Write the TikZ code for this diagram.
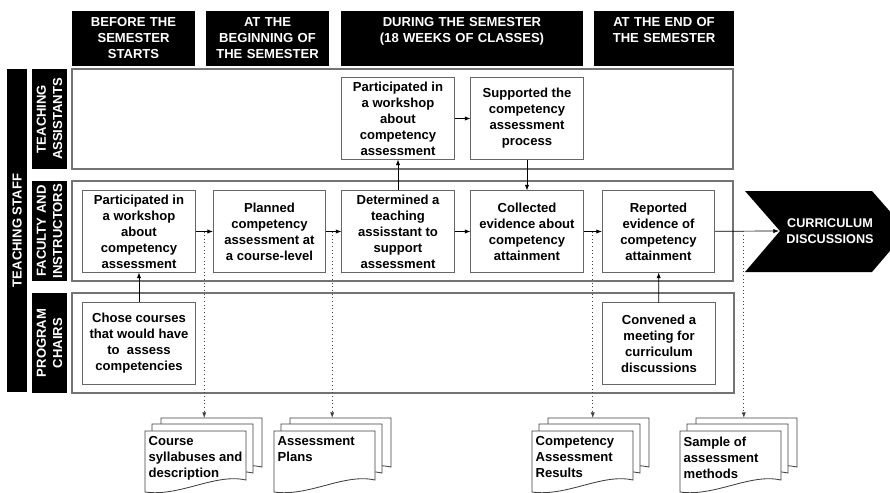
\documentclass[tikz,border=0pt]{standalone}
\usepackage{fontspec}
\setmainfont{Liberation Sans}
\usetikzlibrary{calc,arrows.meta}
\tikzset{>={Latex[length=4pt,width=3pt]}}
\tikzset{
  txt/.style={font=\bfseries\fontsize{9.3}{11.4}\selectfont},
  phase/.style={txt, fill=black, text=white, anchor=north, align=center,
    inner xsep=0pt, inner ysep=3pt, text width=#1, text height=7.5pt, text depth=25.5pt},
  role/.style={txt, fill=black, text=white, rotate=90, align=center,
    minimum width=2.5cm, minimum height=0.875cm, inner sep=1pt},
  lane/.style={draw=black!55, line width=0.9pt},
  task/.style={txt, draw=black!60, line width=0.7pt, fill=white, align=center,
    minimum width=2.8cm, minimum height=2.025cm, inner sep=1pt},
  flow/.style={->, line width=0.5pt},
  feed/.style={->, dotted, line width=0.6pt, black!75},
  docline/.style={draw=black!75, fill=white, line width=0.6pt},
  doctext/.style={txt, anchor=north west, align=left, inner sep=1pt},
  pics/docstack/.style={code={
    \foreach \dx/\dy in {16/-13,7/-7,0/0}
      \draw[docline, shift={(\dx,\dy)}] (0,0) -- (101,0) -- (101,49)
        .. controls (70,42) and (35,66) .. (0,61) -- cycle;
    \coordinate (-top) at (66,-13);
    \node[doctext] (-txt) at (2,4) {#1};
  }}
}
\begin{document}
\begin{tikzpicture}[x=0.025cm, y=-0.025cm]
  \clip (0,0) rectangle (890,493);
  % phases of the semester
  \node[phase=3.075cm] (h1) at (133.5,11) {BEFORE THE\\SEMESTER\\STARTS};
  \node[phase=3.075cm] (h2) at (267.5,11) {AT THE\\BEGINNING OF\\THE SEMESTER};
  \node[phase=6.05cm] (h3) at (462,11) {DURING THE SEMESTER\\(18 WEEKS OF CLASSES)};
  \node[phase=3.5cm] (h4) at (664,11) {AT THE END OF\\THE SEMESTER};

  % roles and lanes
  \node[role, minimum width=8.075cm, minimum height=0.5cm] (staff) at (17,230.5) {TEACHING STAFF};
  \node[role] (ta) at (49.5,119) {TEACHING\\ASSISTANTS};
  \node[role] (fi) at (49.5,231) {FACULTY AND\\INSTRUCTORS};
  \node[role] (pc) at (49.5,343) {PROGRAM\\CHAIRS};
  \draw[lane] (72,69) rectangle (733,169);
  \draw[lane] (72,181) rectangle (733,281);
  \draw[lane] (72,293) rectangle (734,393);

  % teaching assistants
  \node[task] (t1) at (398,118.5) {Participated in\\a workshop\\about\\competency\\assessment};
  \node[task] (t2) at (527,118.5) {Supported the\\competency\\assessment\\process};

  % faculty and instructors
  \node[task] (f1) at (139,231.5) {Participated in\\a workshop\\about\\competency\\assessment};
  \node[task] (f2) at (269.5,231.5) {Planned\\competency\\assessment at\\a course-level};
  \node[task] (f3) at (398,231.5) {Determined a\\teaching\\assisstant to\\support\\assessment};
  \node[task] (f4) at (527,231.5) {Collected\\evidence about\\competency\\attainment};
  \node[task] (f5) at (658.5,231.5) {Reported\\evidence of\\competency\\attainment};

  % program chairs
  \node[task] (p1) at (139,343.5) {Chose courses\\that would have\\to~~assess\\competencies};
  \node[task] (p2) at (659,343.5) {Convened a\\meeting for\\curriculum\\discussions};

  % outcome
  \fill (745,191) -- (872,191) -- (907,231) -- (872,272) -- (745,272) -- (780,231) -- cycle;
  \coordinate (notch) at (779,231);
  \node[txt, font=\bfseries\fontsize{9}{11}\selectfont, text=white, align=center] (cd) at (830,231) {CURRICULUM\\DISCUSSIONS};

  % flow
  \draw[flow] (p1) -- (f1);
  \draw[flow] (f1) -- (f2);
  \draw[flow] (f2) -- (f3);
  \draw[flow] (f3) -- (t1);
  \draw[flow] (t1) -- (t2);
  \draw[flow] (t2) -- (f4);
  \draw[flow] (f3) -- (f4);
  \draw[flow] (f4) -- (f5);
  \draw[flow] (p2) -- (f5);
  \draw[flow] (f5) -- (notch);

  % documents
  \pic (d1) at (145,431) {docstack={Course\\syllabuses and\\description}};
  \pic (d2) at (274,431) {docstack={Assessment\\Plans}};
  \pic (d3) at (532,431) {docstack={Competency\\Assessment\\Results}};
  \pic (d4) at (680,431) {docstack={Sample of\\assessment\\methods}};

  \coordinate (m1) at ($(f1.east)!.5!(f2.west)$);
  \coordinate (m2) at ($(f2.east)!.4!(f3.west)$);
  \coordinate (m3) at ($(f4.east)!.5!(f5.west)$);
  \coordinate (m4) at ($(f5.east)!.45!(notch)$);
  \draw[feed] (m1) -- (m1 |- d1-top);
  \draw[feed] (m2) -- (m2 |- d2-top);
  \draw[feed] (m3) -- (m3 |- d3-top);
  \draw[feed] (m4) -- (m4 |- d4-top);
\end{tikzpicture}
\end{document}
